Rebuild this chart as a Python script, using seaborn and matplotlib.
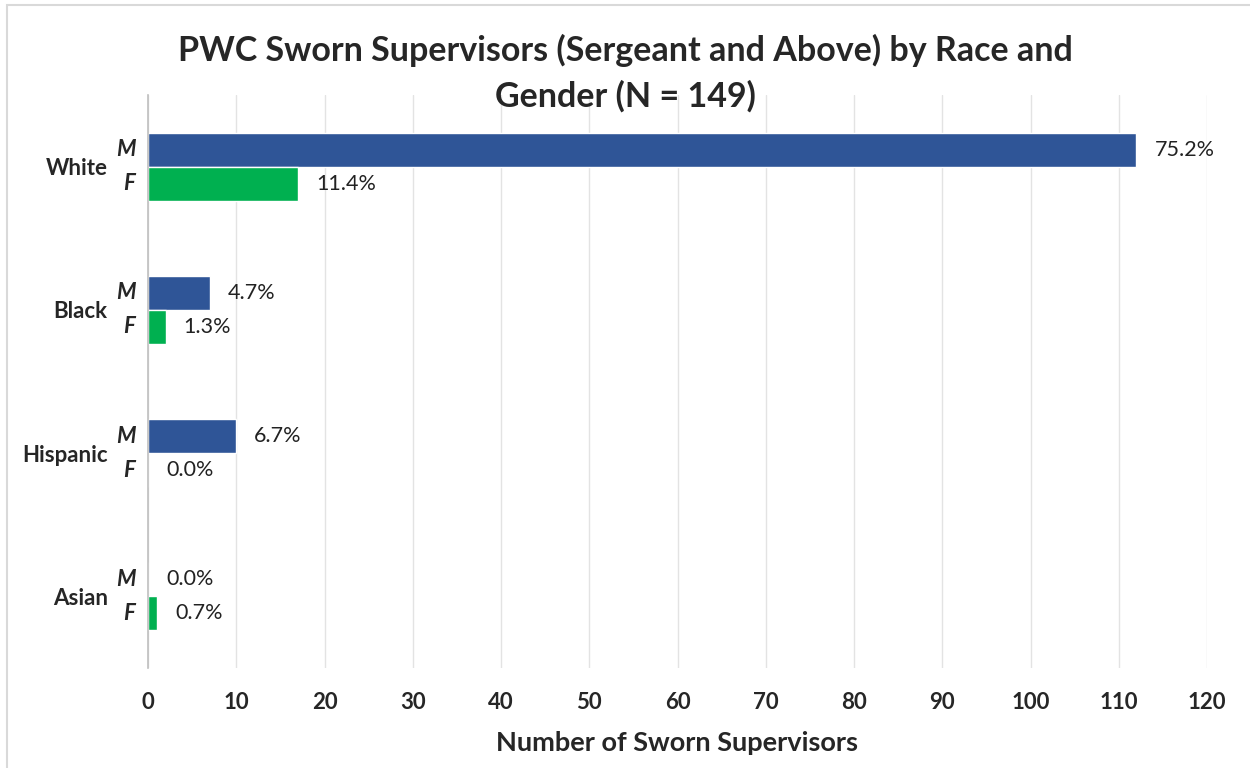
import pandas as pd
import numpy as np
import matplotlib
matplotlib.use('Agg')
import matplotlib.pyplot as plt
import matplotlib.transforms as mtransforms
from matplotlib.patches import Rectangle
import seaborn as sns

# данные
races = ['White', 'Black', 'Hispanic', 'Asian']
male_counts = [112, 7, 10, 0]
female_counts = [17, 2, 0, 1]
male_pct = ['75.2%', '4.7%', '6.7%', '0.0%']
female_pct = ['11.4%', '1.3%', '0.0%', '0.7%']
x_ticks = [0, 10, 20, 30, 40, 50, 60, 70, 80, 90, 100, 110, 120]

df = pd.DataFrame({
    'race': races * 2,
    'gender': ['M'] * 4 + ['F'] * 4,
    'count': male_counts + female_counts,
})

sns.set_style('white')
plt.rcParams['font.family'] = ['Lato', 'DejaVu Sans']

fig = plt.figure(figsize=(12.5, 7.68), dpi=100)
ax = fig.add_axes([148 / 1250, 1 - 668 / 768, (1207 - 148) / 1250, (668 - 95) / 768])

sns.barplot(data=df, y='race', x='count', hue='gender', order=races,
            hue_order=['M', 'F'], palette={'M': '#2F5597', 'F': '#00B050'},
            orient='h', width=0.475, saturation=1, legend=False, ax=ax)

ax.set_xlim(0, 120)
ax.set_xticks(x_ticks)
ax.set_ylim(3.5, -0.5)
ax.grid(axis='x', color='#E3E3E3', linewidth=1)
ax.set_axisbelow(True)
for s in ['top', 'right', 'bottom']:
    ax.spines[s].set_visible(False)
ax.spines['left'].set_color('#BFBFBF')
ax.spines['left'].set_linewidth(1.2)
ax.tick_params(axis='x', length=0, pad=17, labelsize=16)
ax.tick_params(axis='y', length=0, pad=29, labelsize=16)
for lab in ax.get_xticklabels() + ax.get_yticklabels():
    lab.set_fontweight('bold')
ax.set_ylabel('')
ax.set_xlabel('Number of Sworn Supervisors', fontsize=19.5, fontweight='bold', labelpad=13)

# подписи процентов и буквы M/F
trans = mtransforms.blended_transform_factory(ax.transAxes, ax.transData)
for cont, labels, letter in zip(ax.containers, [male_pct, female_pct], ['M', 'F']):
    ax.bar_label(cont, labels=labels, padding=13, fontsize=15.5, color='#222222')
    for bar in cont:
        yc = bar.get_y() + bar.get_height() / 2
        ax.text(-0.012, yc, letter, transform=trans, ha='right', va='center',
                fontsize=16, fontweight='bold', fontstyle='italic')

fig.suptitle('PWC Sworn Supervisors (Sergeant and Above) by Race and\nGender (N = 149)',
             fontsize=24.5, fontweight='bold', y=0.956, linespacing=1.5)

# рамка диаграммы
fig.patches.append(Rectangle((7 / 1250, -0.1), 1.2, 1.1 - 5 / 768, transform=fig.transFigure,
                             fill=False, edgecolor='#D9D9D9', linewidth=1.5))

fig.savefig('out.png', dpi=100)
